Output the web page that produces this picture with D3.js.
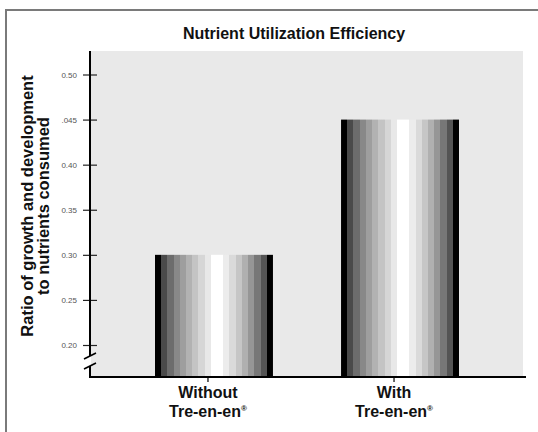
<!DOCTYPE html>
<html>
<head>
<meta charset="utf-8">
<script src="https://cdn.jsdelivr.net/npm/d3@7"></script>
<style>
  html, body { margin: 0; padding: 0; background: #fff; }
  svg { display: block; font-family: "Liberation Sans", Arial, Helvetica, sans-serif; }
</style>
</head>
<body>
<svg id="chart" width="538" height="432"></svg>
<script>
// ---- data ----
const categories = ["Without", "With"];
const categoryLine2 = ["Tre-en-en", "Tre-en-en"];
const values = [0.30, 0.45];
const tickValues = [0.20, 0.25, 0.30, 0.35, 0.40, 0.45, 0.50];
const tickLabels = ["0.20", "0.25", "0.30", "0.35", "0.40", ".045", "0.50"];
const title = "Nutrient Utilization Efficiency";
const yTitle = ["Ratio of growth and development", "to nutrients consumed"];

// ---- layout ----
const W = 538, H = 432;
const plot = { left: 91, right: 523, top: 51, bottom: 377 };
const axisX = 90;

const svg = d3.select("#chart");

// outer frame
svg.append("rect")
  .attr("x", 6).attr("y", 10).attr("width", 560).attr("height", 460)
  .attr("fill", "none").attr("stroke", "#7a7a7a").attr("stroke-width", 2);

// plot background
svg.append("rect")
  .attr("x", plot.left).attr("y", plot.top)
  .attr("width", plot.right - plot.left).attr("height", plot.bottom - plot.top)
  .attr("fill", "#e9e9e9");

// scales
const x = d3.scaleBand().domain(categories)
  .range([plot.left, plot.right]).paddingInner(0.366).paddingOuter(0.344);
const y = d3.scaleLinear().domain([0.20, 0.50]).range([345, 74.5]);

// stepped metallic gradient
const shades = ["#000000", "#4a4a4a", "#6c6c6c", "#888888", "#9e9e9e", "#b2b2b2",
  "#c4c4c4", "#d6d6d6", "#e8e8e8", "#ffffff", "#ffffff", "#ececec", "#dadada",
  "#c6c6c6", "#b0b0b0", "#969696", "#777777", "#545454", "#000000"];
const grad = svg.append("defs").append("linearGradient")
  .attr("id", "barGrad").attr("x1", "0").attr("x2", "1").attr("y1", "0").attr("y2", "0");
shades.forEach((c, i) => {
  grad.append("stop").attr("offset", i / shades.length).attr("stop-color", c);
  grad.append("stop").attr("offset", (i + 1) / shades.length).attr("stop-color", c);
});

// bars
svg.selectAll("rect.bar").data(values).join("rect")
  .attr("class", "bar")
  .attr("x", (d, i) => x(categories[i]))
  .attr("width", x.bandwidth())
  .attr("y", d => y(d))
  .attr("height", d => plot.bottom - y(d))
  .attr("fill", "url(#barGrad)");

// y axis
const yAxis = d3.axisLeft(y).tickValues(tickValues)
  .tickFormat((d, i) => tickLabels[i]).tickSize(7).tickPadding(6);
const gy = svg.append("g").attr("transform", `translate(${axisX},0)`).call(yAxis);
gy.select(".domain").remove();
gy.selectAll(".tick line").attr("x1", -7).attr("x2", 7).attr("stroke", "#222").attr("stroke-width", 1.2);
gy.selectAll(".tick text").attr("font-size", 8).attr("fill", "#555")
  .attr("font-family", "'Liberation Sans', Arial, sans-serif");

// y axis line with break
svg.append("line").attr("x1", axisX).attr("x2", axisX)
  .attr("y1", plot.top).attr("y2", 356)
  .attr("stroke", "#000").attr("stroke-width", 2);
svg.append("path")
  .attr("d", `M${axisX},366 L${axisX},${plot.bottom}`)
  .attr("stroke", "#000").attr("stroke-width", 2).attr("fill", "none");
[[356], [366]].forEach(([yy]) => {
  svg.append("line")
    .attr("x1", axisX - 6).attr("y1", yy + 3).attr("x2", axisX + 6).attr("y2", yy - 3)
    .attr("stroke", "#000").attr("stroke-width", 1.6);
});

// x axis line
svg.append("line").attr("x1", axisX - 1).attr("x2", 526)
  .attr("y1", plot.bottom).attr("y2", plot.bottom)
  .attr("stroke", "#000").attr("stroke-width", 2);

// x ticks and labels
const labelOffset = -6;
const gx = svg.append("g");
categories.forEach((c, i) => {
  const cx = x(c) + x.bandwidth() / 2 + labelOffset;
  gx.append("line").attr("x1", cx).attr("x2", cx)
    .attr("y1", plot.bottom).attr("y2", plot.bottom + 5)
    .attr("stroke", "#000").attr("stroke-width", 1.2);
  gx.append("text").attr("x", cx).attr("y", 398)
    .attr("text-anchor", "middle").attr("font-weight", "bold").attr("font-size", 16)
    .attr("fill", "#111").text(c);
  const t2 = gx.append("text").attr("x", cx).attr("y", 417)
    .attr("text-anchor", "middle").attr("font-weight", "bold").attr("font-size", 16)
    .attr("fill", "#111");
  t2.append("tspan").text(categoryLine2[i]);
  t2.append("tspan").attr("font-size", 8).attr("dy", -6).text("®");
});

// title
svg.append("text").attr("x", 294).attr("y", 38.5)
  .attr("text-anchor", "middle").attr("font-weight", "bold").attr("font-size", 16)
  .attr("fill", "#111").text(title);

// y title (rotated, two lines)
const yt = svg.append("text")
  .attr("transform", "translate(0,206) rotate(-90)")
  .attr("text-anchor", "middle").attr("font-weight", "bold").attr("font-size", 16.5)
  .attr("fill", "#111");
yt.append("tspan").attr("x", 0).attr("y", 33).text(yTitle[0]);
yt.append("tspan").attr("x", 0).attr("y", 49).text(yTitle[1]);
</script>
</body>
</html>
